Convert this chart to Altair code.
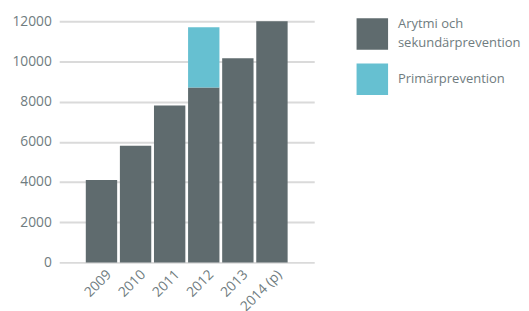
import altair as alt
import pandas as pd

years = ["2009", "2010", "2011", "2012", "2013", "2014 (p)"]
arytmi = [4100, 5800, 7800, 8700, 10150, 12000]
primar = [0, 0, 0, 3000, 0, 0]
series = ["Arytmi och sekundärprevention", "Primärprevention"]
colors = ["#5f6b6e", "#66c0d1"]

df = pd.DataFrame({"year": years, "arytmi": arytmi, "primar": primar})
df["end"] = df["arytmi"] + df["primar"]
df["s1"] = series[0]
df["s2"] = series[1]

font = "Open Sans"
gray = "#6f7c80"

xenc = alt.X("year:N", sort=years, title=None,
             scale=alt.Scale(paddingInner=0.08, paddingOuter=0.78),
             axis=alt.Axis(labelAngle=-45, labelAlign="right", labelBaseline="middle",
                           domain=False, ticks=False, labelPadding=10, labelOffset=8,
                           labelFont=font, labelFontSize=14, labelColor=gray))

yscale = alt.Scale(domain=[0, 12000], nice=False)

base = alt.Chart(df)

dark = base.mark_bar().encode(
    x=xenc,
    y=alt.Y("arytmi:Q", title=None, scale=yscale,
            axis=alt.Axis(values=[0, 2000, 4000, 6000, 8000, 10000, 12000],
                          format="d",
                          domain=False, ticks=False, labelPadding=8,
                          gridColor="#dadada", gridWidth=2,
                          labelFont=font, labelFontSize=14, labelColor=gray)),
    fill=alt.Fill("s1:N", title=None,
                  scale=alt.Scale(domain=[series[0]], range=[colors[0]]),
                  legend=alt.Legend(orient="none", legendX=302, legendY=-3,
                                    symbolType="square", symbolSize=1024,
                                    symbolStrokeWidth=0, padding=0,
                                    labelOffset=10, labelBaseline="line-bottom",
                                    labelFont=font, labelFontSize=13.2,
                                    labelColor=gray, labelLimit=300,
                                    labelExpr="['Arytmi och', 'sekundärprevention']")),
)

teal = base.transform_filter("datum.primar > 0").mark_bar().encode(
    x=xenc,
    y=alt.Y("arytmi:Q", scale=yscale),
    y2="end:Q",
    color=alt.Color("s2:N", title=None,
                    scale=alt.Scale(domain=[series[1]], range=[colors[1]]),
                    legend=alt.Legend(orient="none", legendX=302, legendY=43,
                                      symbolType="square", symbolSize=1024,
                                      symbolStrokeWidth=0, padding=0,
                                      labelOffset=10, labelBaseline="middle",
                                      labelFont=font, labelFontSize=13.2,
                                      labelColor=gray, labelLimit=300)),
)

chart = alt.layer(dark, teal).properties(
    width=259, height=245,
    autosize=alt.AutoSizeParams(type="none"),
    padding={"left": 52, "top": 11, "right": 210, "bottom": 47},
).configure(
    style={"guide-label": {"lineHeight": 19}},
    view=alt.ViewConfig(stroke=None),
)

chart.save("out.html", embed_options={"renderer": "svg", "actions": False})
